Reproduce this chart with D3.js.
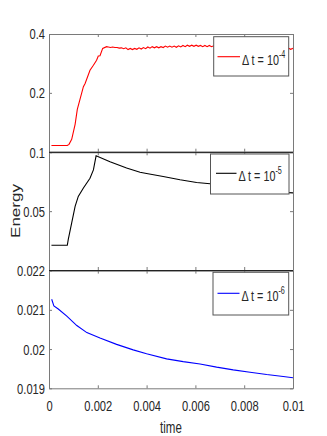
<!DOCTYPE html>
<html><head><meta charset="utf-8">
<script src="https://cdn.jsdelivr.net/npm/d3@7"></script>
<style>
body{margin:0;background:#fff;}
svg{display:block;}
text{font-family:"Liberation Sans",Arial,sans-serif;fill:#262626;}
</style></head><body>
<svg id="chart" width="327" height="436"></svg>
<script>
// ---- data (time in ms) ----
const xTickValues = [0, 0.002, 0.004, 0.006, 0.008, 0.01];
const xTickLabels = ["0", "0.002", "0.004", "0.006", "0.008", "0.01"];

const topTicks = [0.2, 0.4];
const topTickLabels = ["0.2", "0.4"];
const midTicks = [0.05, 0.1];
const midTickLabels = ["0.05", "0.1"];
const botTicks = [0.019, 0.02, 0.021, 0.022];
const botTickLabels = ["0.019", "0.02", "0.021", "0.022"];

const seriesNames = ["10", "10", "10"];
const seriesExp = ["-4", "-5", "-6"];
const seriesColors = ["#ff0000", "#000000", "#0000ff"];

const redT = [0.1,0.75,0.82,0.93,1.07,1.16,1.27,1.41,1.48,1.68,1.82,1.95,2.02,2.09,2.2,2.36,
  2.43,2.52,2.61,2.70,2.79,2.88,2.97,3.06,3.15,3.24,3.33,3.42,3.51,3.60,3.69,3.78,3.87,3.96,
  4.05,4.14,4.23,4.32,4.41,4.50,4.59,4.68,4.77,4.86,4.95,5.04,5.13,5.22,5.31,5.40,5.49,5.58,
  5.67,5.76,5.85,5.94,6.03,6.12,6.21,6.30,6.39,6.48,6.57,6.66,6.75,6.84,6.93,7.02,7.11,7.20,
  7.29,7.38,7.47,7.56,7.65,7.74,7.83,7.92,8.01,8.10,8.19,8.28,8.37,8.46,8.55,8.64,8.73,8.82,
  8.91,9.00,9.09,9.18,9.27,9.36,9.45,9.54,9.63,9.72,9.81,9.90,9.99,10.0];
const redV = [0.021,0.021,0.025,0.042,0.093,0.144,0.178,0.221,0.232,0.277,0.294,0.311,0.325,0.326,0.351,0.357,
  0.356,0.354,0.356,0.354,0.354,0.352,0.353,0.350,0.353,0.347,0.351,0.347,0.351,0.348,0.353,0.349,0.354,0.350,
  0.356,0.352,0.357,0.353,0.357,0.353,0.357,0.354,0.359,0.355,0.359,0.355,0.359,0.355,0.360,0.356,0.361,0.357,
  0.362,0.358,0.362,0.358,0.362,0.358,0.361,0.357,0.361,0.357,0.361,0.357,0.360,0.356,0.360,0.356,0.359,0.355,
  0.359,0.355,0.359,0.355,0.358,0.354,0.358,0.354,0.357,0.353,0.357,0.353,0.356,0.352,0.356,0.352,0.355,0.351,
  0.355,0.351,0.354,0.350,0.354,0.350,0.353,0.349,0.353,0.349,0.352,0.348,0.351,0.350];

const blackT = [0.1,0.75,0.79,0.93,1.07,1.2,1.41,1.68,1.82,1.93,2.5,3.18,3.73,4.0,4.68,5.37,6.05,6.6,7.5,8.5,9.5,10.0];
const blackV = [0.021,0.021,0.026,0.040,0.054,0.0625,0.0697,0.078,0.085,0.097,0.092,0.0866,0.083,0.082,0.0795,0.0767,0.0744,0.0733,0.071,0.0685,0.066,0.0655];

const blueT = [0.11,0.2,0.38,0.73,1.14,1.55,2.09,2.77,3.45,4.0,4.82,5.5,6.19,6.87,7.55,8.24,8.92,9.6,10.0];
const blueV = [0.02127,0.02110,0.02102,0.02084,0.02060,0.02042,0.02028,0.02012,0.01998,0.01988,0.01975,0.01968,0.01962,0.01954,0.01947,0.01941,0.01935,0.01930,0.01927];

// ---- layout ----
const svg = d3.select("#chart");
const L = 49, R = 293;
const panelTop = [34, 152.3, 270.6];
const panelH = 117.7;
const SX = 0.72; // horizontal text condensing
const FS = 15.5;

const x = d3.scaleLinear().domain([0, 0.01]).range([L, R]);

const panels = [
  {domain:[0,0.4], ticks:topTicks, labels:topTickLabels, t:redT, v:redV, legend:{x:213.7,y:36.7,w:75,h:39.3,ly:56.7,lx1:217.5,lx2:240,tx:242}},
  {domain:[0,0.1], ticks:midTicks, labels:midTickLabels, t:blackT, v:blackV, legend:{x:210.5,y:154,w:78.5,h:40,ly:173.3,lx1:216,lx2:236.5,tx:238.5}},
  {domain:[0.019,0.022], ticks:botTicks, labels:botTickLabels, t:blueT, v:blueV, legend:{x:213,y:272.3,w:75.7,h:42.7,ly:293.3,lx1:217.5,lx2:239.5,tx:241.5}}
];

panels.forEach((p, i) => {
  const top = panelTop[i], bot = top + panelH;
  const y = d3.scaleLinear().domain(p.domain).range([bot, top]);
  const g = svg.append("g");

  // clip
  svg.append("clipPath").attr("id", "clip"+i).append("rect")
    .attr("x", L).attr("y", top).attr("width", R-L).attr("height", panelH);

  // line
  const line = d3.line().x((d,k) => x(p.t[k]*1e-3)).y(d => y(d));
  g.append("path").datum(p.v).attr("d", line)
    .attr("fill", "none").attr("stroke", seriesColors[i]).attr("stroke-width", 1.1)
    .attr("clip-path", "url(#clip"+i+")");

  // axes
  const ax = g.append("g").attr("transform", `translate(${L},0)`)
    .call(d3.axisLeft(y).tickValues(p.ticks).tickFormat((d,k)=>p.labels[k]).tickSizeInner(-3).tickSizeOuter(0).tickPadding(4));
  const axR = g.append("g").attr("transform", `translate(${R},0)`)
    .call(d3.axisRight(y).tickValues(p.ticks).tickFormat("").tickSizeInner(-3).tickSizeOuter(0));
  const axT = g.append("g").attr("transform", `translate(0,${top})`)
    .call(d3.axisTop(x).tickValues(xTickValues).tickFormat("").tickSizeInner(-3).tickSizeOuter(0));
  const axB = g.append("g").attr("transform", `translate(0,${bot})`)
    .call(d3.axisBottom(x).tickValues(xTickValues).tickFormat((d,k)=> i===2 ? xTickLabels[k] : "").tickSizeInner(-3).tickSizeOuter(0).tickPadding(12));

  [ax, axR, axT, axB].forEach(a => {
    a.select(".domain").attr("stroke", "#7a7a7a");
    a.selectAll(".tick line").attr("stroke", "#7a7a7a");
  });
  ax.selectAll(".tick text").attr("font-size", FS).attr("fill", "#262626")
    .attr("x", null).attr("transform", `translate(-4,0) scale(${SX},1)`)
    .attr("font-family", '"Liberation Sans",Arial,sans-serif');
  axB.selectAll(".tick text").attr("font-size", FS).attr("fill", "#262626")
    .attr("transform", `scale(${SX},1)`)
    .attr("font-family", '"Liberation Sans",Arial,sans-serif');

  // legend
  const lg = p.legend;
  g.append("rect").attr("x", lg.x).attr("y", lg.y).attr("width", lg.w).attr("height", lg.h)
    .attr("fill", "#fff").attr("stroke", "#555").attr("stroke-width", 1);
  g.append("line").attr("x1", lg.lx1).attr("x2", lg.lx2).attr("y1", lg.ly).attr("y2", lg.ly)
    .attr("stroke", seriesColors[i]).attr("stroke-width", 1.1);
  const tx = g.append("text").attr("transform", `translate(${lg.tx},${lg.ly+8}) scale(${SX},1)`)
    .attr("font-size", 15);
  tx.append("tspan").text("Δ t = " + seriesNames[i]);
  tx.append("tspan").attr("font-size", 10).attr("dy", -7).text(seriesExp[i]);
});

// dark boundaries between panels
[panelTop[1], panelTop[2]].forEach(yy => {
  svg.append("line").attr("x1", L).attr("x2", R).attr("y1", yy).attr("y2", yy)
    .attr("stroke", "#1a1a1a").attr("stroke-width", 1);
});

// axis titles
svg.append("text").attr("transform", `translate(171,433) scale(${SX},1)`)
  .attr("text-anchor", "middle").attr("font-size", 16).text("time");
svg.append("text").attr("transform", `translate(19.5,211) scale(${SX},1) rotate(-90)`)
  .attr("text-anchor", "middle").attr("font-size", 17).text("Energy");
</script>
</body></html>
